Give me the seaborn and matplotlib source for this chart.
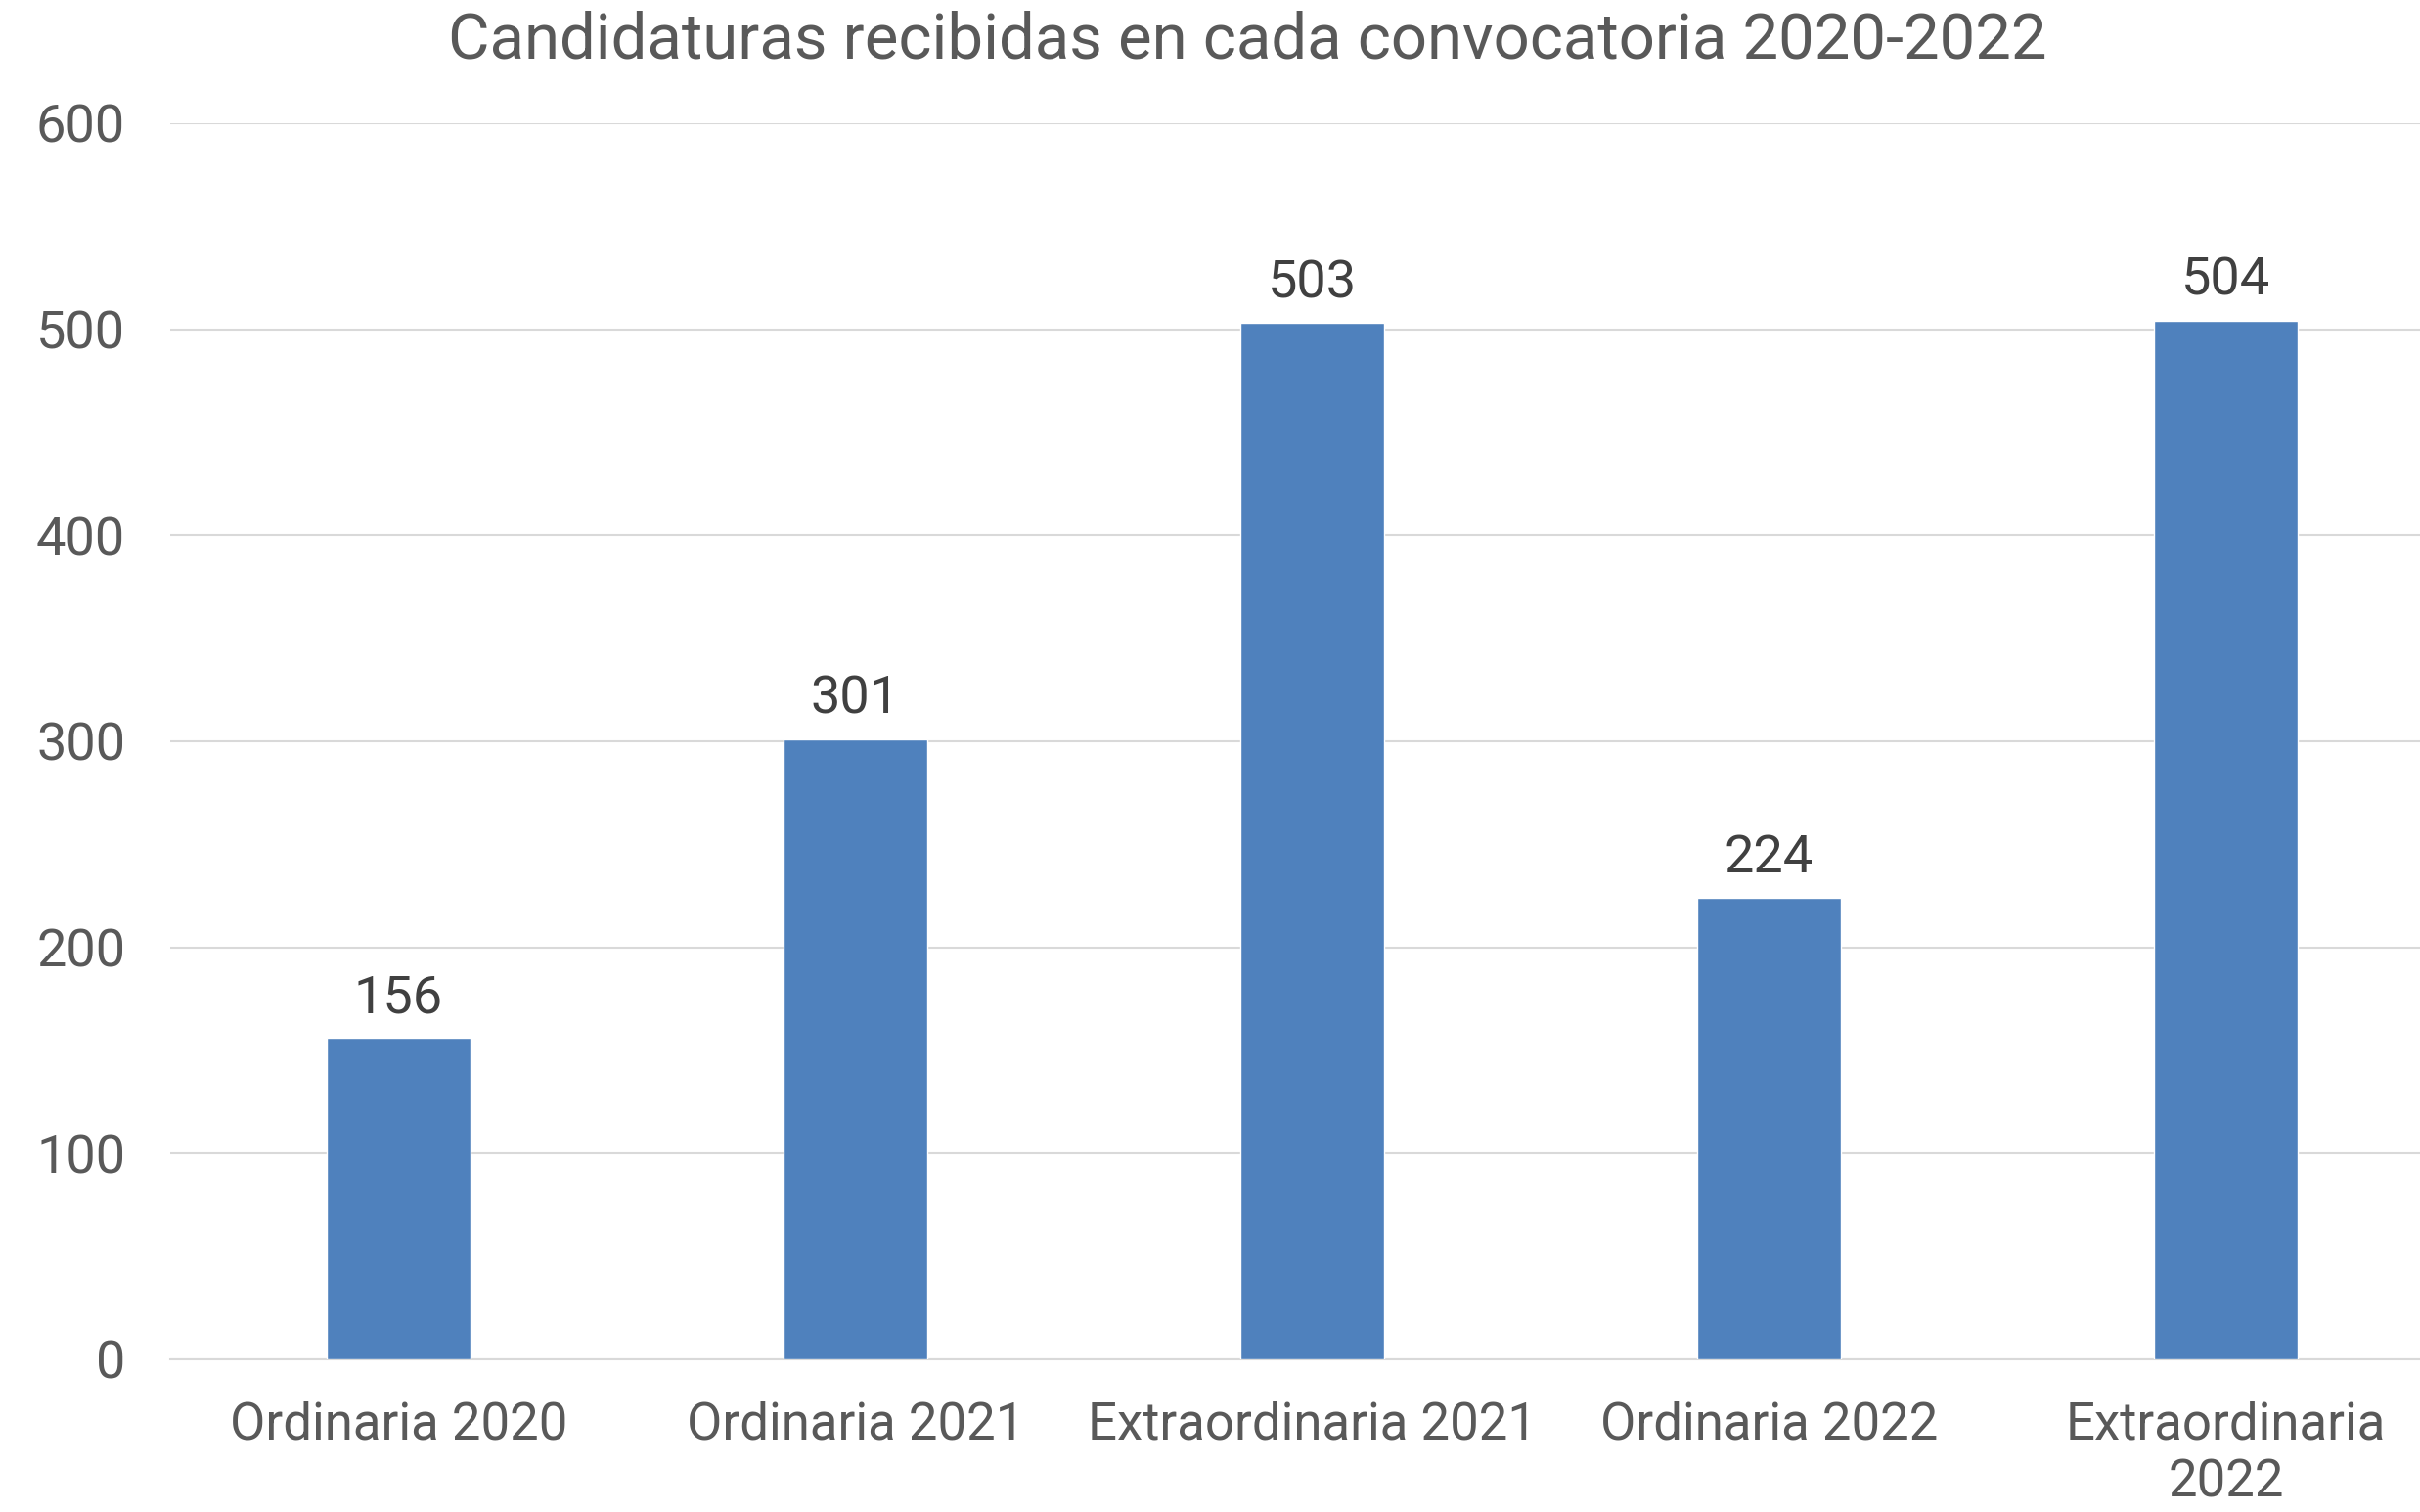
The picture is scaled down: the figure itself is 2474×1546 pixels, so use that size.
import matplotlib
matplotlib.use("Agg")
import matplotlib.pyplot as plt
import seaborn as sns
import pandas as pd

categories = ["Ordinaria 2020", "Ordinaria 2021", "Extraordinaria 2021",
              "Ordinaria 2022", "Extraordinaria\n2022"]
values = [156, 301, 503, 224, 504]
yticks = [0, 100, 200, 300, 400, 500, 600]

df = pd.DataFrame({"conv": categories, "cand": values})

sns.set_theme(style="white")
plt.rcParams["font.family"] = ["Roboto", "DejaVu Sans"]
grey = "#595959"

fig = plt.figure(figsize=(24.74, 15.46), dpi=100)
ax = fig.add_axes([174 / 2474, 1 - 1390 / 1546, (2509 - 174) / 2474, (1390 - 126) / 1546])

sns.barplot(data=df, x="conv", y="cand", color="#4F81BD", width=0.314,
            saturation=1, ax=ax, zorder=3)

ax.set_ylim(0, 600)
ax.set_xlim(-0.5, 4.5)
ax.set_yticks(yticks)
ax.grid(axis="y", color="#D9D9D9", linewidth=1.5, zorder=0)
for s in ["top", "right", "left"]:
    ax.spines[s].set_visible(False)
ax.spines["bottom"].set_color("#D9D9D9")
ax.spines["bottom"].set_linewidth(1.5)
ax.tick_params(axis="x", length=0, labelsize=38, labelcolor=grey, pad=30)
ax.tick_params(axis="y", length=0, labelsize=39, labelcolor=grey, pad=33)
ax.set_xlabel("")
ax.set_ylabel("")

for i, v in enumerate(values):
    ax.annotate(str(v), (i, v), xytext=(0, 11), textcoords="offset points",
                ha="center", va="bottom", fontsize=39, color="#404040")

fig.text(1275 / 2474, 1 - 42 / 1546, "Candidaturas recibidas en cada convocatoria 2020-2022",
         ha="center", va="center", fontsize=47, color=grey)

fig.savefig("out.png", dpi=100)
